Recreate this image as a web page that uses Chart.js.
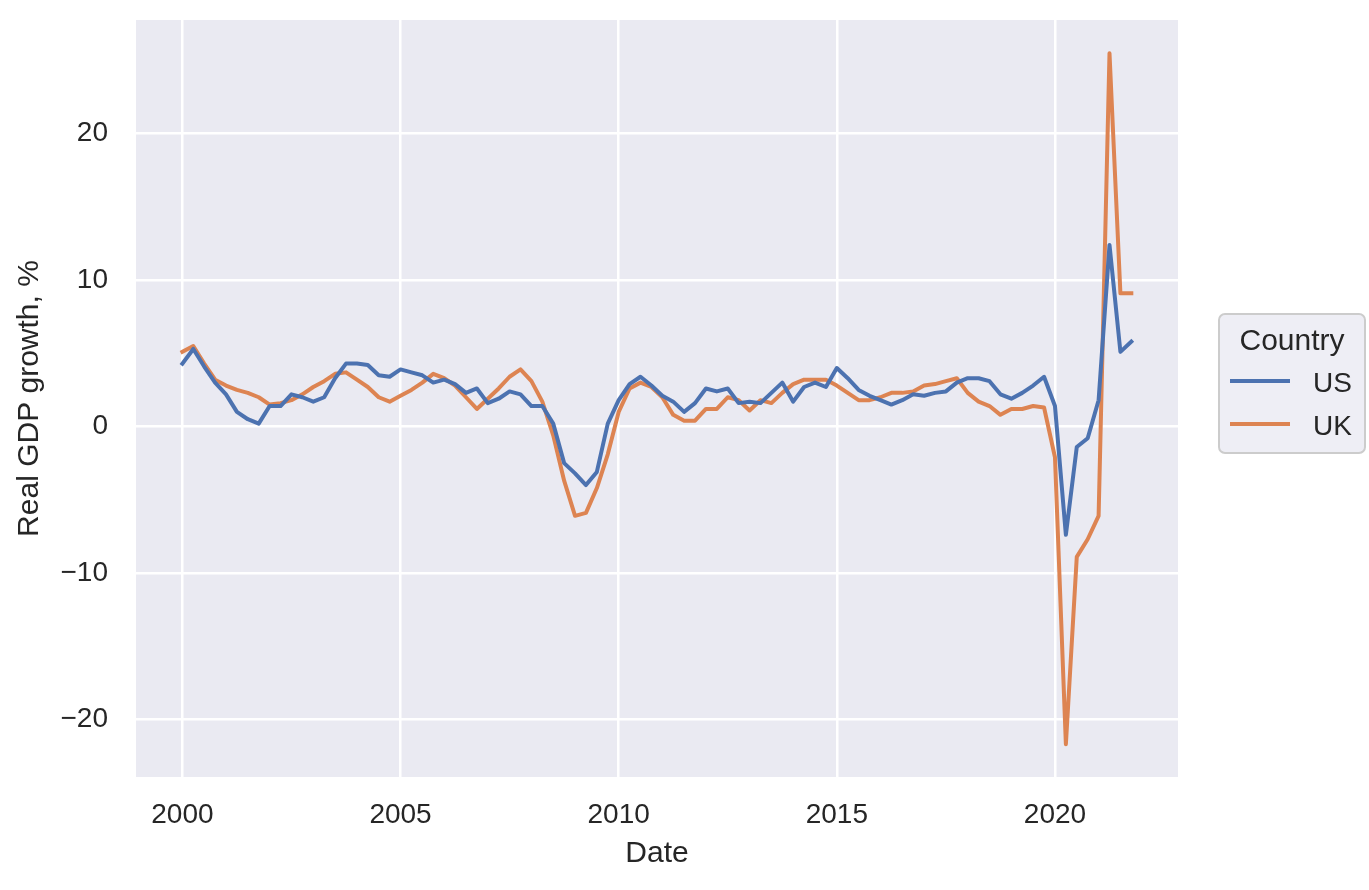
<!DOCTYPE html>
<html>
<head>
<meta charset="utf-8">
<title>Real GDP growth</title>
<script src="https://cdn.jsdelivr.net/npm/chart.js@4"></script>
<style>
  html, body { margin: 0; padding: 0; background: #ffffff; }
  canvas { display: block; }
</style>
</head>
<body>
<canvas id="myChart" width="1369" height="890"></canvas>
<script>
// quarterly observations, 2000Q1 .. 2021Q4
const startYear = 2000;
const countries = ["US", "UK"];
const colors = ["#4C72B0", "#DD8452"];

const usGrowth = [
  4.3, 5.3, 4.1, 3.0, 2.2, 1.0, 0.5, 0.2, 1.4, 1.4, 2.2, 2.0,
  1.7, 2.0, 3.3, 4.3, 4.3, 4.2, 3.5, 3.4, 3.9, 3.7, 3.5, 3.0,
  3.2, 2.9, 2.3, 2.6, 1.6, 1.9, 2.4, 2.2, 1.4, 1.4, 0.2, -2.5,
  -3.2, -4.0, -3.1, 0.2, 1.8, 2.9, 3.4, 2.8, 2.1, 1.7, 1.0, 1.6,
  2.6, 2.4, 2.6, 1.6, 1.7, 1.6, 2.3, 3.0, 1.7, 2.7, 3.0, 2.7,
  4.0, 3.3, 2.5, 2.1, 1.8, 1.5, 1.8, 2.2, 2.1, 2.3, 2.4, 3.0,
  3.3, 3.3, 3.1, 2.2, 1.9, 2.3, 2.8, 3.4, 1.4, -7.4, -1.4, -0.8,
  1.8, 12.4, 5.1, 5.8
];

const ukGrowth = [
  5.1, 5.5, 4.3, 3.2, 2.8, 2.5, 2.3, 2.0, 1.5, 1.6, 1.8, 2.2,
  2.7, 3.1, 3.6, 3.7, 3.2, 2.7, 2.0, 1.7, 2.1, 2.5, 3.0, 3.6,
  3.3, 2.8, 2.0, 1.2, 1.9, 2.6, 3.4, 3.9, 3.1, 1.7, -0.6, -3.7,
  -6.1, -5.9, -4.2, -1.9, 1.0, 2.6, 3.0, 2.7, 2.0, 0.8, 0.4, 0.4,
  1.2, 1.2, 2.0, 1.8, 1.1, 1.8, 1.6, 2.3, 2.9, 3.2, 3.2, 3.2,
  2.8, 2.3, 1.8, 1.8, 2.0, 2.3, 2.3, 2.4, 2.8, 2.9, 3.1, 3.3,
  2.3, 1.7, 1.4, 0.8, 1.2, 1.2, 1.4, 1.3, -2.1, -21.7, -8.9, -7.7,
  -6.1, 25.5, 9.1, 9.1
];

const xTicks = [2000, 2005, 2010, 2015, 2020];
const yTicks = [-20, -10, 0, 10, 20];

const textColor = "#262626";
const fontFamily = "'Liberation Sans', Arial, sans-serif";

function toPoints(values) {
  return values.map((v, i) => ({ x: startYear + i / 4, y: v }));
}

// grey panel behind the lines, like seaborn darkgrid
const panelBackground = {
  id: "panelBackground",
  beforeDraw(chart) {
    const { ctx, chartArea } = chart;
    ctx.save();
    ctx.fillStyle = "#EAEAF2";
    ctx.fillRect(chartArea.left, chartArea.top, chartArea.right - chartArea.left, chartArea.bottom - chartArea.top);
    ctx.restore();
  },
};

// legend box on the right with a title
const sideLegend = {
  id: "sideLegend",
  afterDraw(chart) {
    const ctx = chart.ctx;
    const x0 = 1219, y0 = 314, w = 146, h = 139, r = 6;
    ctx.save();
    ctx.beginPath();
    ctx.roundRect(x0, y0, w, h, r);
    ctx.fillStyle = "rgba(234, 234, 242, 0.8)";
    ctx.fill();
    ctx.lineWidth = 2;
    ctx.strokeStyle = "#CCCCCC";
    ctx.stroke();

    ctx.fillStyle = textColor;
    ctx.textBaseline = "alphabetic";
    ctx.textAlign = "center";
    ctx.font = "30px " + fontFamily;
    ctx.fillText("Country", 1292, 350);

    ctx.textAlign = "left";
    ctx.font = "28px " + fontFamily;
    chart.data.datasets.forEach((ds, i) => {
      const ly = 381 + i * 43;
      ctx.beginPath();
      ctx.moveTo(1230, ly);
      ctx.lineTo(1290, ly);
      ctx.lineWidth = 4;
      ctx.lineCap = "butt";
      ctx.strokeStyle = ds.borderColor;
      ctx.stroke();
      ctx.fillStyle = textColor;
      ctx.fillText(ds.label, 1313, ly + 10.5);
    });
    ctx.restore();
  },
};

const ctx = document.getElementById("myChart").getContext("2d");

const data = {
  datasets: [
    {
      label: countries[0],
      data: toPoints(usGrowth),
      borderColor: colors[0],
      backgroundColor: colors[0],
    },
    {
      label: countries[1],
      data: toPoints(ukGrowth),
      borderColor: colors[1],
      backgroundColor: colors[1],
    },
  ],
};

const config = {
  type: "line",
  data: data,
  options: {
    responsive: false,
    animation: false,
    devicePixelRatio: 1,
    layout: {
      padding: { top: 20, right: 191, bottom: 0, left: 0 },
    },
    elements: {
      line: {
        borderWidth: 4,
        tension: 0,
        borderJoinStyle: "round",
        borderCapStyle: "square",
        fill: false,
      },
      point: { radius: 0, hoverRadius: 0 },
    },
    plugins: {
      legend: { display: false },
      tooltip: { enabled: false },
    },
    scales: {
      x: {
        type: "linear",
        min: 1998.937,
        max: 2022.82,
        afterBuildTicks(axis) {
          axis.ticks = xTicks.map((v) => ({ value: v }));
        },
        afterFit(scale) {
          scale.height = 113;
          scale.paddingLeft = 0;
          scale.paddingRight = 0;
        },
        border: { display: false },
        grid: { color: "#FFFFFF", lineWidth: 2.5, drawTicks: false },
        ticks: {
          color: textColor,
          font: { family: fontFamily, size: 28 },
          padding: 21,
          maxRotation: 0,
          callback: (v) => String(v),
        },
        title: {
          display: true,
          text: "Date",
          color: textColor,
          font: { family: fontFamily, size: 30 },
          padding: { top: 0, bottom: 18 },
        },
      },
      y: {
        type: "linear",
        min: -23.94,
        max: 27.77,
        afterBuildTicks(axis) {
          axis.ticks = yTicks.map((v) => ({ value: v }));
        },
        afterFit(scale) {
          scale.width = 136;
          scale.paddingTop = 0;
          scale.paddingBottom = 0;
        },
        border: { display: false },
        grid: { color: "#FFFFFF", lineWidth: 2.5, drawTicks: false },
        ticks: {
          color: textColor,
          font: { family: fontFamily, size: 28 },
          padding: 28,
          callback: (v) => (v < 0 ? "\u2212" + Math.abs(v) : String(v)),
        },
        title: {
          display: true,
          text: "Real GDP growth, %",
          color: textColor,
          font: { family: fontFamily, size: 30 },
          padding: { top: 12, bottom: 0 },
        },
      },
    },
  },
  plugins: [panelBackground, sideLegend],
};

const gdpChart = new Chart(ctx, config);
</script>
</body>
</html>
